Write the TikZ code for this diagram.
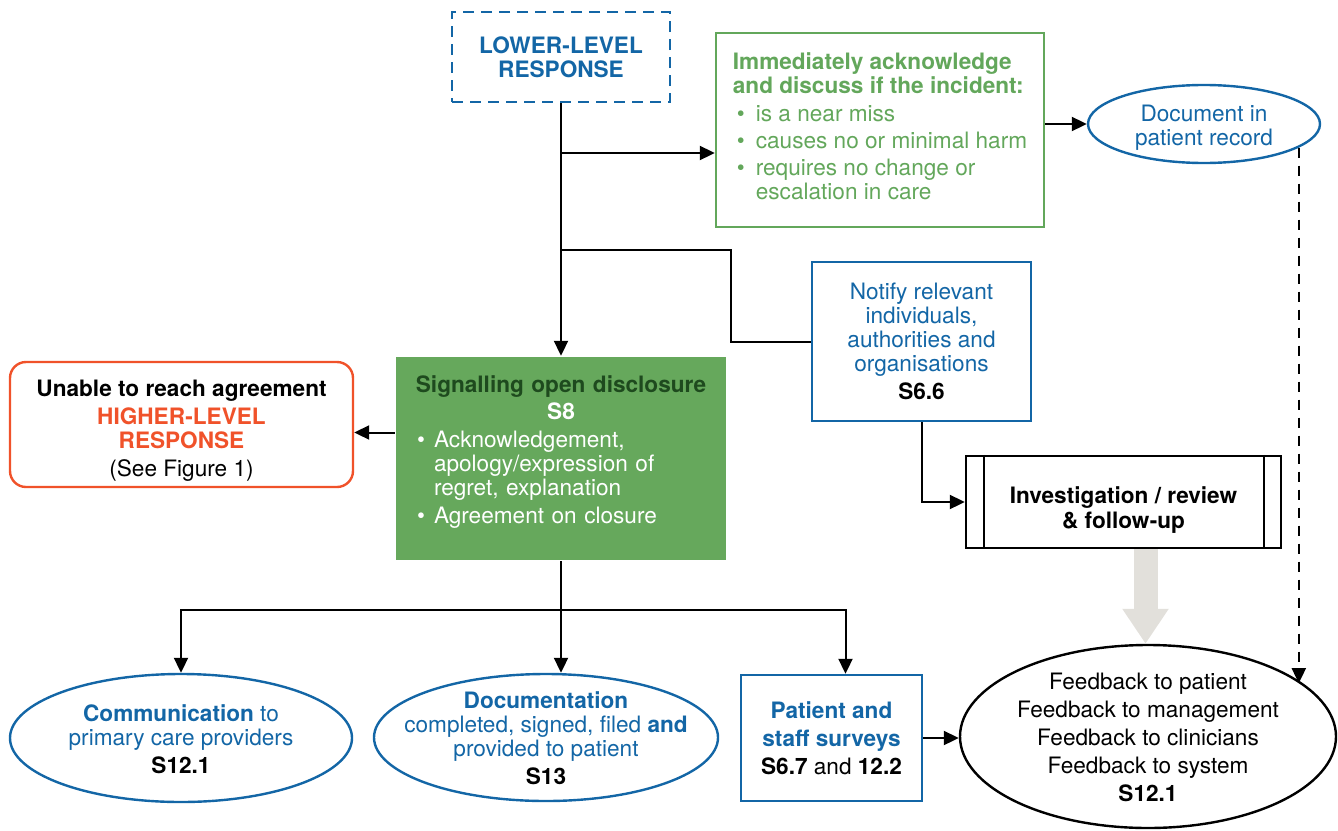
\documentclass[tikz,border=0pt]{standalone}
\usepackage{fontspec}
\setmainfont{TeX Gyre Heros}
\usetikzlibrary{shapes.geometric,arrows.meta,positioning}

\definecolor{ozblue}{HTML}{1366A6}
\definecolor{ozgreen}{HTML}{63A75B}
\definecolor{ozfill}{HTML}{66A85C}
\definecolor{ozdark}{HTML}{1E4A1E}
\definecolor{ozorange}{HTML}{F0522A}
\definecolor{ozgrey}{HTML}{E2E0DB}

\newcommand{\bul}[1][11.5pt]{\makebox[#1][l]{\hspace{2pt}\textbullet}}
\newcommand{\intext}[1]{\smash{\makebox[0pt]{\raisebox{-5pt}{\begin{tabular}{@{}c@{}}#1\end{tabular}}}}}

\begin{document}
\begin{tikzpicture}[x=0.5pt, y=-0.5pt, line width=1pt,
  every node/.style={font=\fontsize{11.3}{12}\selectfont, align=center, inner sep=0pt, line width=1.2pt},
  bold/.style={font=\fontsize{11.3}{12}\selectfont\bfseries},
  box/.style={draw, rectangle},
  oval/.style={draw, ellipse},
  arr/.style={-{Triangle[length=7.5pt,width=7pt]}},
  bigarr/.style={draw=ozgrey, line width=12pt, -{Triangle[length=17.5pt,width=22pt]}}]

\useasboundingbox (0,0) rectangle (1338,830);

% Top row
\node[box, bold, draw=ozblue, text=ozblue, dash pattern=on 5.5pt off 3.5pt, minimum width=109pt, minimum height=45pt] (lower) at (561,57) {LOWER-LEVEL\\RESPONSE};
\node[box, draw=ozgreen, text=ozgreen, align=left, minimum width=164pt, minimum height=97pt] (ack) at (880,130)
  {\textbf{Immediately acknowledge}\\
   \textbf{and discuss if the incident:}\\[2pt]
   \bul is a near miss\\[1.5pt]
   \bul causes no or minimal harm\\[1.5pt]
   \bul requires no change or\\
   \hspace*{11.5pt}escalation in care\\[-8pt]\mbox{}};
\node[oval, draw=ozblue, text=ozblue, minimum width=116pt, minimum height=39pt] (doc) at (1204,124)
  {\intext{Document in\\patient record}};

% Middle row
\node[box, draw=ozblue, text=ozblue, minimum width=109.5pt, minimum height=79.5pt] (notify) at (921.5,341.5)
  {Notify relevant\\individuals,\\authorities and\\organisations\\[2pt]\textcolor{black}{\textbf{S6.6}}};
\node[rectangle, fill=ozfill, text=white, text width=148pt, minimum width=165pt, minimum height=101.5pt] (signal) at (561,458.5)
  {{\color{ozdark}\textbf{Signalling open disclosure}}\\[1.5pt]
   \textbf{S8}\\[2pt]
   \makebox[148pt][l]{\bul[10.5pt]Acknowledgement,}\\
   \makebox[148pt][l]{\hspace*{10.5pt}apology/expression of}\\
   \makebox[148pt][l]{\hspace*{10.5pt}regret, explanation}\\[2pt]
   \makebox[148pt][l]{\bul[10.5pt]Agreement on closure}\\[-3pt]\mbox{}};
\node[box, draw=ozorange, rounded corners=8pt, minimum width=171.5pt, minimum height=62.5pt] (unable) at (181.5,424.5)
  {\mbox{}\\[2.5pt]\textbf{Unable to reach agreement}\\[2pt]
   \textcolor{ozorange}{\textbf{HIGHER-LEVEL}}\\
   \textcolor{ozorange}{\textbf{RESPONSE}}\\[2pt]
   (See Figure 1)};
\node[box, bold, minimum width=157.5pt, minimum height=46pt] (invest) at (1123.5,502) {\mbox{}\\[4.5pt]Investigation / review\\[0.5pt]\& follow-up};
\draw[line width=1.2pt] ([xshift=9.5pt]invest.north west) -- ([xshift=9.5pt]invest.south west);
\draw[line width=1.2pt] ([xshift=-9pt]invest.north east) -- ([xshift=-9pt]invest.south east);

% Bottom row
\node[oval, draw=ozblue, text=ozblue, minimum width=171pt, minimum height=64pt] (comm) at (181,738)
  {\intext{\textbf{Communication} to\\primary care providers\\[2pt]\textcolor{black}{\textbf{S12.1}}}};
\node[oval, draw=ozblue, text=ozblue, minimum width=172pt, minimum height=63.5pt] (docu) at (546,737.5)
  {\intext{\textbf{Documentation}\\completed, signed, filed \textbf{and}\\provided to patient\\[2pt]\textcolor{black}{\textbf{S13}}}};
\node[box, draw=ozblue, text=ozblue, minimum width=90.5pt, minimum height=63pt] (survey) at (831.5,738)
  {\textbf{Patient and}\\[2pt]\textbf{staff surveys}\\[2pt]\textcolor{black}{\textbf{S6.7} and \textbf{12.2}}};
\node[oval, minimum width=188pt, minimum height=91.5pt] (fb) at (1148,736.5)
  {\intext{Feedback to patient\\[2pt]Feedback to management\\[2pt]Feedback to clinicians\\[2pt]Feedback to system\\[2pt]\textbf{S12.1}}};

% Connections
\coordinate (upper) at (561,153);
\coordinate (middle) at (561,250);
\coordinate (lowsplit) at (561,610);
\draw[arr] (lower.south) -- (signal.north);
\draw[arr] (upper) -- (upper -| ack.west);
\draw (middle) -- ++(170,0) |- (notify.west);
\draw[arr] (ack.east |- doc.west) -- (doc.west);
\draw[arr, dash pattern=on 5pt off 4pt] (doc.-14) -- (doc.-14 |- fb.19.5);
\draw[arr] (notify.south) |- (invest.west);
\coordinate (gtop) at ([xshift=11pt]invest.south);
\draw[bigarr] (gtop) -- (gtop |- fb.north);
\coordinate (u) at ([yshift=-4pt]unable.east);
\draw[arr] (u -| signal.west) -- (u);
\draw (signal.south) -- (lowsplit);
\draw[arr] (lowsplit) -| (comm.north);
\draw[arr] (lowsplit) -- (lowsplit |- docu.north);
\coordinate (sv) at ([xshift=7pt]survey.north);
\draw[arr] (lowsplit) -| (sv);
\draw[arr] (survey.east) -- (survey.east -| fb.west);
\end{tikzpicture}
\end{document}
